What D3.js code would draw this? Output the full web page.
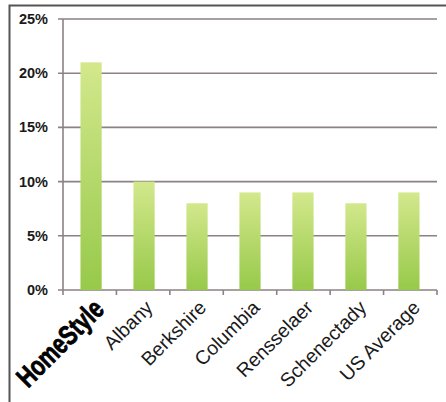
<!DOCTYPE html>
<html>
<head>
<meta charset="utf-8">
<script src="https://cdn.jsdelivr.net/npm/d3@7"></script>
<style>
  body { margin: 0; background: #fff; }
  svg { display: block; }
</style>
</head>
<body>
<div id="chart"></div>
<script>
let categories = ['HomeStyle', 'Albany', 'Berkshire', 'Columbia', 'Rensselaer', 'Schenectady', 'US Average']
let values = [21, 10, 8, 9, 9, 8, 9]
let yTicks = [0, 5, 10, 15, 20, 25]

let margin = { top: 19, left: 63, right: 9, bottom: 112 }
let width = 446 - margin.left - margin.right
let height = 402 - margin.top - margin.bottom

let root = d3.select('#chart')
  .append('svg')
  .attr('width', 446)
  .attr('height', 402)

// frame (left + top only)
root.append('path')
  .attr('d', 'M9.5,402 V5.5 H446')
  .attr('fill', 'none')
  .attr('stroke', '#555')
  .attr('stroke-width', 2)

let defs = root.append('defs')
let grad = defs.append('linearGradient')
  .attr('id', 'barGrad')
  .attr('x1', 0).attr('y1', 0).attr('x2', 0).attr('y2', 1)
grad.append('stop').attr('offset', '0%').attr('stop-color', '#d3e88c')
grad.append('stop').attr('offset', '100%').attr('stop-color', '#97c94a')

let svg = root.append('g')
  .attr('transform', `translate(${margin.left},${margin.top})`)

let x = d3.scaleBand().domain(categories).range([0, width]).paddingInner(0.6).paddingOuter(0.33)
let xTick = d3.scaleBand().domain(categories).range([0, width])
let y = d3.scaleLinear().domain([0, 25]).range([height, 0])

// gridlines
svg.append('g')
  .selectAll('line')
  .data(yTicks)
  .enter().append('line')
  .attr('x1', -5)
  .attr('x2', width)
  .attr('y1', d => y(d))
  .attr('y2', d => y(d))
  .attr('stroke', '#8c8282')
  .attr('stroke-width', 1.6)

// y axis line
svg.append('line')
  .attr('x1', 0).attr('x2', 0)
  .attr('y1', 0).attr('y2', height)
  .attr('stroke', '#8c8282')
  .attr('stroke-width', 1.6)

// y labels
svg.append('g')
  .selectAll('text')
  .data(yTicks)
  .enter().append('text')
  .attr('x', -15)
  .attr('y', d => y(d))
  .attr('dy', '0.35em')
  .attr('text-anchor', 'end')
  .attr('font-family', 'Liberation Sans, Arial, sans-serif')
  .attr('font-weight', 'bold')
  .attr('font-size', 14.5)
  .attr('fill', '#1a1a1a')
  .text(d => d + '%')

// bars
svg.append('g')
  .selectAll('rect')
  .data(values)
  .enter().append('rect')
  .attr('x', (d, i) => x(categories[i]))
  .attr('width', x.bandwidth())
  .attr('y', d => y(d))
  .attr('height', d => height - y(d))
  .attr('fill', 'url(#barGrad)')

// x tick marks
let tickPos = categories.map(c => xTick(c)).concat([width])
svg.append('g')
  .selectAll('line')
  .data(tickPos)
  .enter().append('line')
  .attr('x1', d => d).attr('x2', d => d)
  .attr('y1', height).attr('y2', height + 5)
  .attr('stroke', '#8c8282')
  .attr('stroke-width', 1.6)

// x labels
svg.append('g')
  .selectAll('text')
  .data(categories)
  .enter().append('text')
  .attr('transform', (d, i) => {
    let t = `translate(${xTick(d) + xTick.bandwidth() / 2 + (i === 0 ? 9 : 6)},${height + 14}) rotate(-45)`
    return i === 0 ? t + ' scale(0.76,1)' : t
  })
  .attr('text-anchor', 'end')
  .attr('dy', '0.35em')
  .attr('font-family', 'Liberation Sans, Arial, sans-serif')
  .attr('font-weight', (d, i) => i === 0 ? 900 : 'normal')
  .attr('font-size', (d, i) => i === 0 ? 28 : 19.5)
  .attr('fill', (d, i) => i === 0 ? '#000' : '#1a1a1a')
  .attr('stroke', (d, i) => i === 0 ? '#000' : 'none')
  .attr('stroke-width', 0.8)
  .text(d => d)
</script>
</body>
</html>
